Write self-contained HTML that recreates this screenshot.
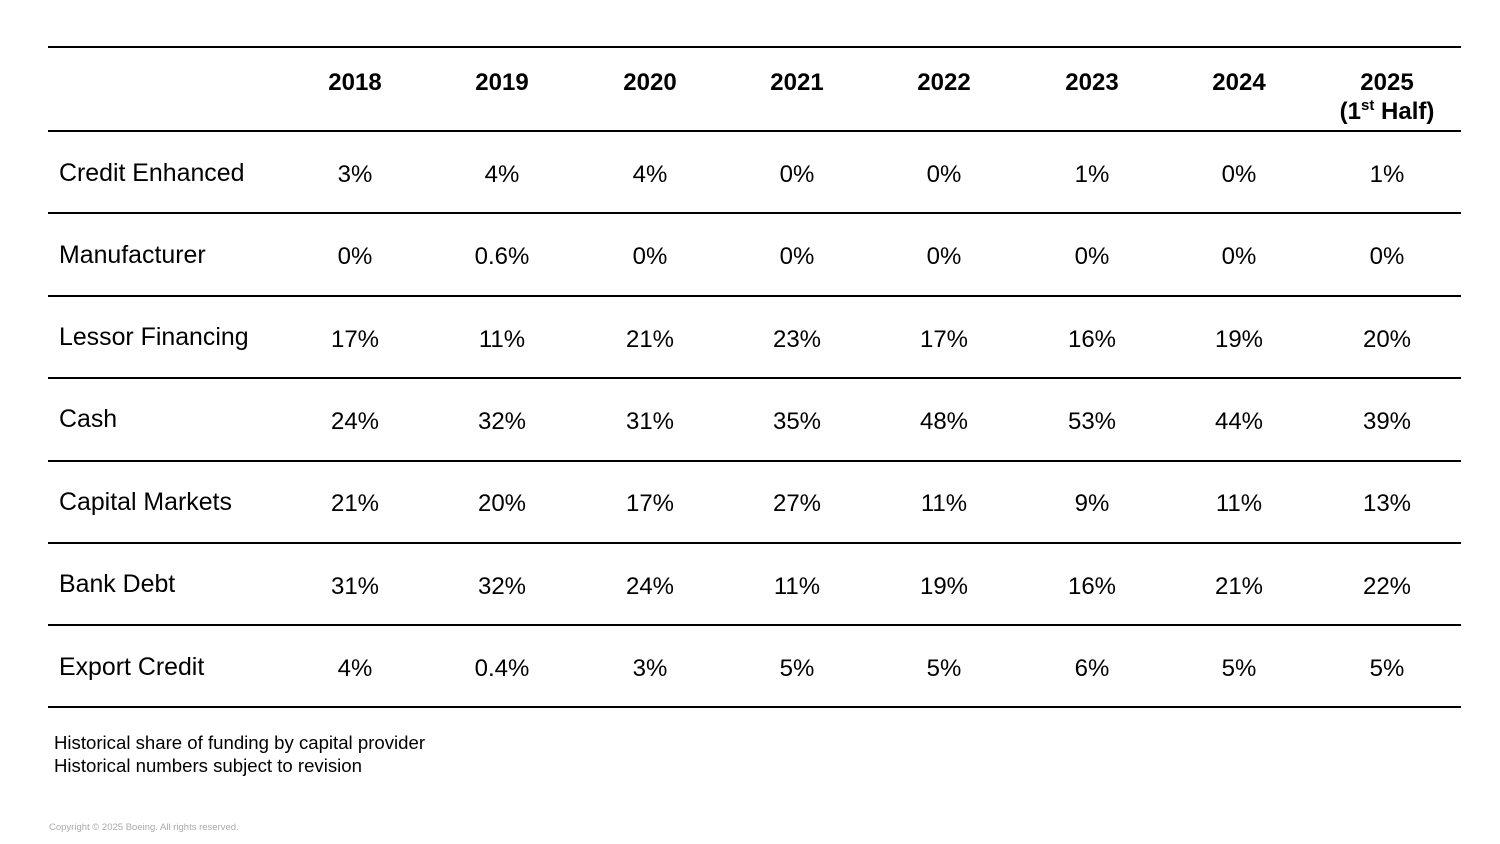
<!DOCTYPE html>
<html><head><meta charset="utf-8"><style>
body{margin:0;background:#fff;}
svg{display:block;font-family:"Liberation Sans",Arial,sans-serif;}
</style></head><body>
<svg width="1500" height="844" xmlns="http://www.w3.org/2000/svg">
<g stroke="#000" stroke-width="2">
<line x1="48" x2="1461" y1="47" y2="47"/>
<line x1="48" x2="1461" y1="131" y2="131"/>
<line x1="48" x2="1461" y1="213" y2="213"/>
<line x1="48" x2="1461" y1="296" y2="296"/>
<line x1="48" x2="1461" y1="378" y2="378"/>
<line x1="48" x2="1461" y1="461" y2="461"/>
<line x1="48" x2="1461" y1="543" y2="543"/>
<line x1="48" x2="1461" y1="625" y2="625"/>
<line x1="48" x2="1461" y1="707" y2="707"/>
</g>
<g font-size="24" font-weight="bold" text-anchor="middle" fill="#000">
<text x="355" y="90">2018</text><text x="502" y="90">2019</text><text x="650" y="90">2020</text><text x="797" y="90">2021</text><text x="944" y="90">2022</text><text x="1092" y="90">2023</text><text x="1239" y="90">2024</text><text x="1387" y="90">2025</text>
<text x="1387" y="119">(1<tspan font-size="15" dy="-9">st</tspan><tspan dy="9"> Half)</tspan></text>
</g>
<g font-size="24.9" fill="#000">
<text x="59" y="181">Credit Enhanced</text>
<text x="59" y="263">Manufacturer</text>
<text x="59" y="345">Lessor Financing</text>
<text x="59" y="427">Cash</text>
<text x="59" y="510">Capital Markets</text>
<text x="59" y="592">Bank Debt</text>
<text x="59" y="675">Export Credit</text>
</g>
<g font-size="24" text-anchor="middle" fill="#000">
<g transform="translate(0,182)"><text x="355">3%</text><text x="502">4%</text><text x="650">4%</text><text x="797">0%</text><text x="944">0%</text><text x="1092">1%</text><text x="1239">0%</text><text x="1387">1%</text></g>
<g transform="translate(0,264)"><text x="355">0%</text><text x="502">0.6%</text><text x="650">0%</text><text x="797">0%</text><text x="944">0%</text><text x="1092">0%</text><text x="1239">0%</text><text x="1387">0%</text></g>
<g transform="translate(0,347)"><text x="355">17%</text><text x="502">11%</text><text x="650">21%</text><text x="797">23%</text><text x="944">17%</text><text x="1092">16%</text><text x="1239">19%</text><text x="1387">20%</text></g>
<g transform="translate(0,429)"><text x="355">24%</text><text x="502">32%</text><text x="650">31%</text><text x="797">35%</text><text x="944">48%</text><text x="1092">53%</text><text x="1239">44%</text><text x="1387">39%</text></g>
<g transform="translate(0,511)"><text x="355">21%</text><text x="502">20%</text><text x="650">17%</text><text x="797">27%</text><text x="944">11%</text><text x="1092">9%</text><text x="1239">11%</text><text x="1387">13%</text></g>
<g transform="translate(0,594)"><text x="355">31%</text><text x="502">32%</text><text x="650">24%</text><text x="797">11%</text><text x="944">19%</text><text x="1092">16%</text><text x="1239">21%</text><text x="1387">22%</text></g>
<g transform="translate(0,676)"><text x="355">4%</text><text x="502">0.4%</text><text x="650">3%</text><text x="797">5%</text><text x="944">5%</text><text x="1092">6%</text><text x="1239">5%</text><text x="1387">5%</text></g>
</g>
<text x="54" y="749" font-size="18.6" fill="#000">Historical share of funding by capital provider</text>
<text x="54" y="772" font-size="18.6" fill="#000">Historical numbers subject to revision</text>
<text x="49" y="830" font-size="9.5" fill="#aaa">Copyright © 2025 Boeing. All rights reserved.</text>
</svg>
</body></html>
